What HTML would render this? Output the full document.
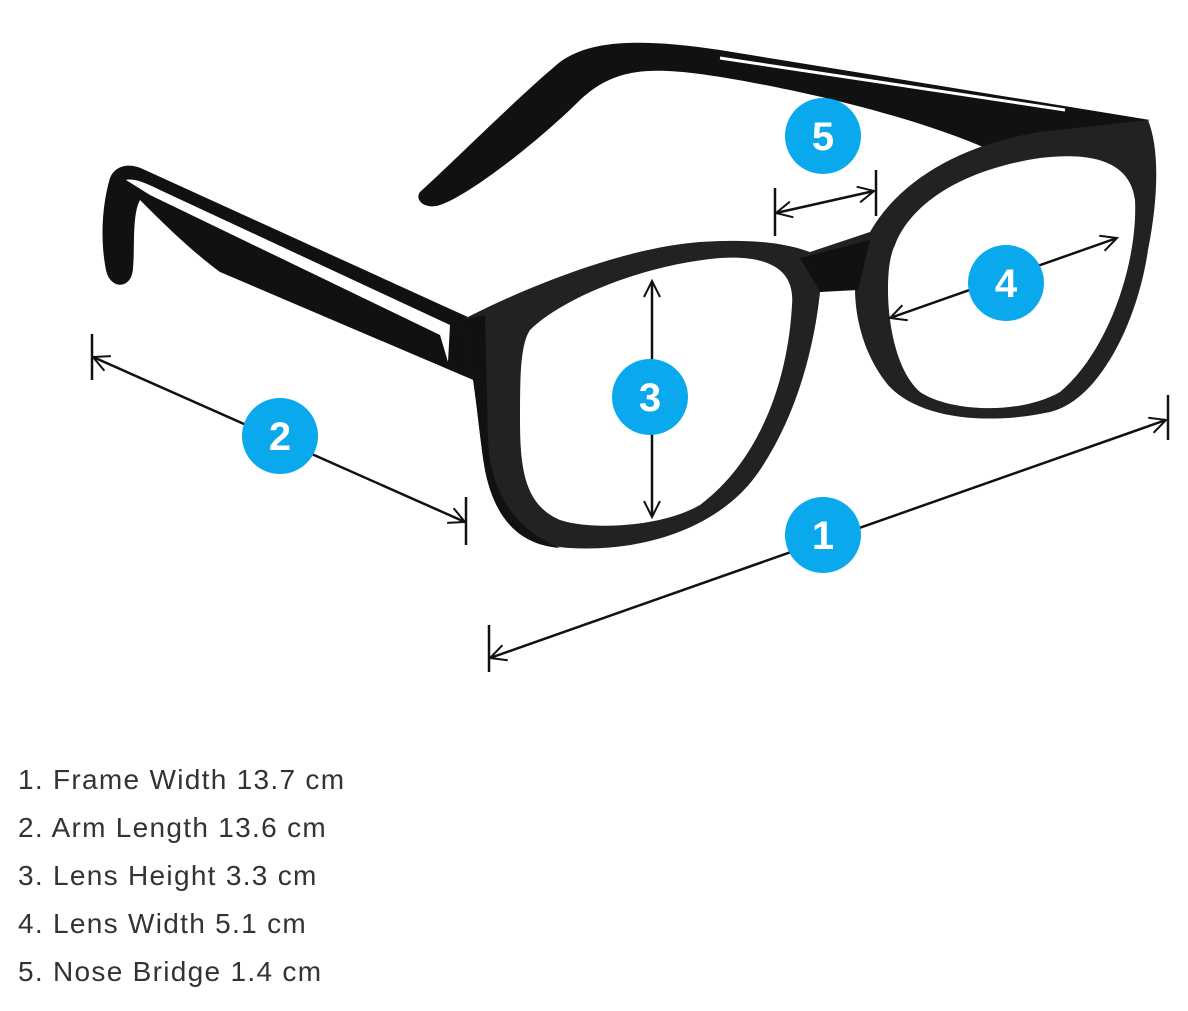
<!DOCTYPE html>
<html><head><meta charset="utf-8"><style>
html,body{margin:0;padding:0;background:#fff;width:1188px;height:1011px;overflow:hidden;position:relative}
svg{position:absolute;left:0;top:0}
.t{position:absolute;left:18px;font-family:"Liberation Sans",sans-serif;font-size:28px;letter-spacing:1.3px;color:#333;white-space:nowrap}
</style></head><body>
<svg width="1188" height="720" viewBox="0 0 1188 720">
<defs>
<marker id="a" viewBox="0 0 20 20" refX="18" refY="10" markerWidth="20" markerHeight="20" markerUnits="userSpaceOnUse" orient="auto-start-reverse"><path d="M2 2 L18 10 L2 18" fill="none" stroke="#111" stroke-width="2"/></marker>
</defs>
<path d="M420 192 C450 165 520 95 560 62 C590 40 640 38 720 50 L1150 120 L1020 150 L990 150 C900 110 760 82 700 74 C640 66 610 72 580 100 C540 140 470 195 440 205 C425 210 414 200 420 192 Z" fill="#111"/>
<path d="M720 58 L1065 110" stroke="#fff" stroke-width="3"/>
<path d="M110 178 C115 165 130 162 145 170 L470 318 L478 382 L220 272 C190 250 160 220 140 200 C132 215 135 245 133 268 C132 290 110 290 106 270 C100 240 102 205 110 178 Z" fill="#111"/>
<path d="M126 180 C135 178 145 183 160 190 L450 325 L448 362 L440 335 L150 195 Z" fill="#fff"/>
<path d="M462 320 C520 290 620 248 700 242 C760 238 790 245 810 252 L870 232 C900 180 960 145 1040 132 L1148 120 C1160 150 1158 200 1148 250 C1138 320 1100 400 1050 412 C990 425 920 420 888 385 C860 350 855 310 855 288 L820 292 C815 340 800 410 760 470 C720 530 640 552 570 548 C520 545 495 520 485 470 C478 430 476 380 462 320 Z" fill="#222"/>
<path d="M462 320 L485 315 L488 440 Q492 520 560 548 C520 545 495 520 485 470 C478 430 476 380 462 320 Z" fill="#111"/>
<path d="M800 258 L870 240 L858 290 L820 292 Z" fill="#111"/>
<path d="M530 330 C560 300 640 265 720 258 C770 255 795 270 792 305 C788 380 760 460 700 505 C660 528 590 530 560 520 C525 505 520 470 520 420 C520 380 520 345 530 330 Z" fill="#fff"/>
<path d="M895 245 C910 205 960 170 1040 158 C1090 152 1130 160 1135 200 C1138 260 1110 350 1060 392 C1020 415 950 412 920 392 C895 370 888 320 888 290 C888 270 890 255 895 245 Z" fill="#fff"/>
<g stroke="#111" stroke-width="2.5" fill="none">
<line x1="490" y1="658" x2="1166" y2="420" marker-start="url(#a)" marker-end="url(#a)"/>
<line x1="489" y1="625" x2="489" y2="672"/><line x1="1168" y1="395" x2="1168" y2="440"/>
<line x1="93" y1="357" x2="465" y2="522" marker-start="url(#a)" marker-end="url(#a)"/>
<line x1="92" y1="334" x2="92" y2="380"/><line x1="466" y1="497" x2="466" y2="545"/>
<line x1="652" y1="281" x2="652" y2="517" marker-start="url(#a)" marker-end="url(#a)"/>
<line x1="890" y1="318" x2="1117" y2="238" marker-start="url(#a)" marker-end="url(#a)"/>
<line x1="776" y1="213" x2="874" y2="191" marker-start="url(#a)" marker-end="url(#a)"/>
<line x1="775" y1="188" x2="775" y2="236"/><line x1="876" y1="170" x2="876" y2="216"/>
</g>
<g fill="#0aa8ec">
<circle cx="823" cy="136" r="38"/><circle cx="1006" cy="283" r="38"/><circle cx="650" cy="397" r="38"/><circle cx="280" cy="436" r="38"/><circle cx="823" cy="535" r="38"/>
</g>
<g fill="#fff" font-family="Liberation Sans, sans-serif" font-weight="bold" font-size="40" text-anchor="middle">
<text x="823" y="150">5</text><text x="1006" y="297">4</text><text x="650" y="411">3</text><text x="280" y="450">2</text><text x="823" y="549">1</text>
</g>
</svg>
<div class="t" style="top:764px">1. Frame Width 13.7 cm</div>
<div class="t" style="top:812px">2. Arm Length 13.6 cm</div>
<div class="t" style="top:860px">3. Lens Height 3.3 cm</div>
<div class="t" style="top:908px">4. Lens Width 5.1 cm</div>
<div class="t" style="top:956px">5. Nose Bridge 1.4 cm</div>
</body></html>
